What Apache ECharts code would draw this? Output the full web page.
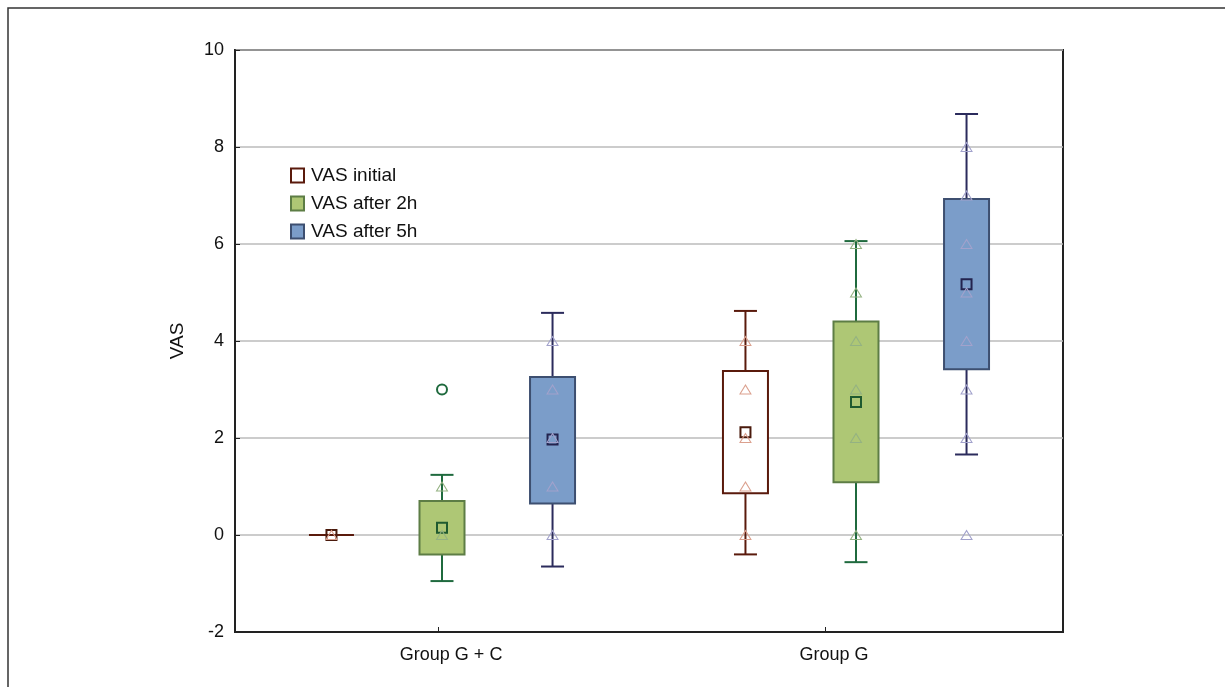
<!DOCTYPE html>
<html>
<head>
<meta charset="utf-8">
<script src="https://cdn.jsdelivr.net/npm/echarts@6/dist/echarts.min.js"></script>
<style>
  html, body { margin: 0; padding: 0; background: #fff; }
  #chart { width: 1225px; height: 687px; }
</style>
</head>
<body>
<div id="chart"></div>
<script>
// groups on the x axis (value axis 0..2, group centres at 0.5 and 1.5)
var categories = ['Group G + C', 'Group G']
var groupCenters = [0.5, 1.5]
var tickPos = [0.49, 1.425]
var labelPos = [0.522, 1.447]
var seriesNames = ['VAS initial', 'VAS after 2h', 'VAS after 5h']
var offsets = [-0.267, 0, 0.267]

// [boxLow, boxHigh, whiskerLow, whiskerHigh, mean] per group
var vasInitial = [[0, 0, 0, 0, 0], [0.86, 3.38, -0.40, 4.62, 2.12]]
var vasAfter2h = [[-0.40, 0.70, -0.95, 1.24, 0.15], [1.09, 4.40, -0.56, 6.06, 2.74]]
var vasAfter5h = [[0.65, 3.26, -0.65, 4.58, 1.97], [3.42, 6.93, 1.66, 8.68, 5.17]]

// raw points (triangles)
var ptsInitial = [[0], [0, 1, 2, 3, 4]]
var ptsAfter2h = [[0, 1], [0, 2, 3, 4, 5, 6]]
var ptsAfter5h = [[0, 1, 2, 3, 4], [0, 2, 3, 4, 5, 6, 7, 8]]
var outliers2h = [[0, 3]] // [group, value]

var yTicks = { min: -2, max: 10, interval: 2 }

var colors = [
  { fill: '#ffffff', border: '#5a1a0c', whisker: '#5a1a0c', mean: '#4a1a0c', pt: '#dba08e' },
  { fill: '#aec775', border: '#5d7d45', whisker: '#1f6a3e', mean: '#1f5a30', pt: '#94b282' },
  { fill: '#7b9dc9', border: '#3d4f70', whisker: '#2b2b5c', mean: '#23234e', pt: '#a2a2cc' }
]

var font = 'Liberation Sans, Arial'
var chart = echarts.init(document.getElementById('chart'))

function boxSeries(name, idx, data) {
  var c = colors[idx]
  return {
    name: name,
    type: 'custom',
    z: 2,
    itemStyle: { color: c.fill, borderColor: c.border },
    renderItem: function (params, api) {
      var x = api.value(0)
      var p = function (v) { return api.coord([x, v]) }
      var lo = p(api.value(1)), hi = p(api.value(2))
      var wl = p(api.value(3)), wh = p(api.value(4)), mn = p(api.value(5))
      var hw = 22.5, cap = 11.5, ms = 5
      var kids = [
        { type: 'line', shape: { x1: wl[0], y1: wl[1], x2: wh[0], y2: wh[1] }, style: { stroke: c.whisker, lineWidth: 2 } },
        { type: 'line', shape: { x1: wl[0] - cap, y1: wl[1], x2: wl[0] + cap, y2: wl[1] }, style: { stroke: c.whisker, lineWidth: 2 } },
        { type: 'line', shape: { x1: wh[0] - cap, y1: wh[1], x2: wh[0] + cap, y2: wh[1] }, style: { stroke: c.whisker, lineWidth: 2 } }
      ]
      if (lo[1] - hi[1] > 0.5) {
        kids.push({ type: 'rect', shape: { x: lo[0] - hw, y: hi[1], width: hw * 2, height: lo[1] - hi[1] }, style: { fill: c.fill, stroke: c.border, lineWidth: 2 } })
      } else {
        kids.push({ type: 'line', shape: { x1: lo[0] - hw, y1: lo[1], x2: lo[0] + hw, y2: lo[1] }, style: { stroke: c.border, lineWidth: 2 } })
      }
      kids.push({ type: 'rect', z2: 10, shape: { x: mn[0] - ms, y: mn[1] - ms, width: ms * 2, height: ms * 2 }, style: { fill: 'none', stroke: c.mean, lineWidth: 2 } })
      return { type: 'group', children: kids }
    },
    data: data.map(function (d, g) {
      return [groupCenters[g] + offsets[idx]].concat(d)
    })
  }
}

function pointSeries(idx, pts) {
  var data = []
  pts.forEach(function (list, g) {
    list.forEach(function (v) { data.push([groupCenters[g] + offsets[idx], v]) })
  })
  return {
    type: 'scatter',
    z: 3,
    symbol: 'triangle',
    symbolSize: [11, 9],
    silent: true,
    itemStyle: { color: 'rgba(255,255,255,0)', borderColor: colors[idx].pt, borderWidth: 1, opacity: 1 },
    data: data
  }
}

var option = {
  backgroundColor: '#fff',
  animation: false,
  graphic: [{
    type: 'polyline',
    shape: { points: [[8, 687], [8, 8], [1225, 8]] },
    style: { stroke: '#333', lineWidth: 1.5, fill: 'none' }
  }],
  legend: {
    orient: 'vertical',
    left: 285,
    top: 161,
    itemWidth: 13,
    itemHeight: 14,
    itemGap: 9,
    textStyle: { fontFamily: font, fontSize: 19, color: '#111', lineHeight: 19, padding: [0, 0, 0, 2] },
    data: seriesNames.map(function (n, i) {
      return { name: n, icon: 'rect', itemStyle: { color: colors[i].fill, borderColor: colors[i].border, borderWidth: 2 } }
    })
  },
  grid: { left: 235, right: 162, top: 50, bottom: 55, show: true, borderColor: '#222', borderWidth: 2 },
  xAxis: {
    type: 'value',
    min: 0,
    max: 2,
    axisLine: { show: true, onZero: false, lineStyle: { color: '#222', width: 2 } },
    splitLine: { show: false },
    axisTick: { show: true, inside: true, length: 5, customValues: tickPos, lineStyle: { color: '#222' } },
    axisLabel: {
      customValues: labelPos,
      margin: 14,
      fontFamily: font,
      fontSize: 18,
      color: '#111',
      formatter: function (v) {
        var i = labelPos.indexOf(v)
        return i >= 0 ? categories[i] : ''
      }
    }
  },
  yAxis: {
    type: 'value',
    min: yTicks.min,
    max: yTicks.max,
    interval: yTicks.interval,
    name: 'VAS',
    nameLocation: 'middle',
    nameGap: 48,
    nameTextStyle: { fontFamily: font, fontSize: 19, color: '#111' },
    axisLine: { show: true, lineStyle: { color: '#222', width: 2 } },
    axisTick: { show: true, inside: true, length: 5, lineStyle: { color: '#222' } },
    axisLabel: { margin: 11, fontFamily: font, fontSize: 18, color: '#111' },
    splitLine: { show: true, lineStyle: { color: '#bbbbbb', width: 1.5 } }
  },
  series: [
    boxSeries(seriesNames[0], 0, vasInitial),
    boxSeries(seriesNames[1], 1, vasAfter2h),
    boxSeries(seriesNames[2], 2, vasAfter5h),
    pointSeries(0, ptsInitial),
    pointSeries(1, ptsAfter2h),
    pointSeries(2, ptsAfter5h),
    {
      type: 'scatter',
      z: 3,
      symbol: 'circle',
      symbolSize: 10,
      silent: true,
      itemStyle: { color: '#fff', borderColor: '#1f6a3e', borderWidth: 2, opacity: 1 },
      data: outliers2h.map(function (o) { return [groupCenters[o[0]] + offsets[1], o[1]] })
    }
  ]
}

chart.setOption(option)
</script>
</body>
</html>
